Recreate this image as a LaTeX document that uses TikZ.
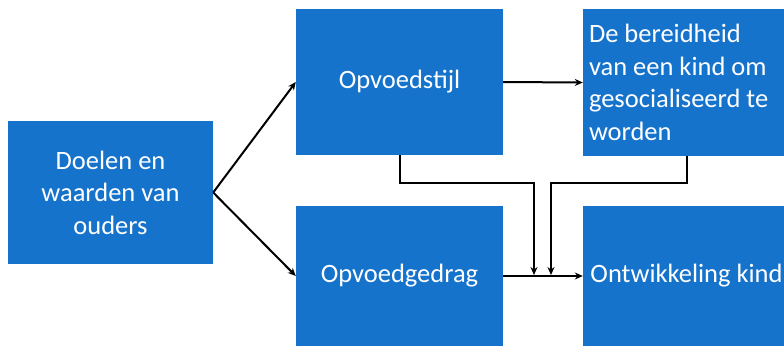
\documentclass[tikz,border=0pt]{standalone}
\usepackage{fontspec}
\setmainfont{Carlito}
\usetikzlibrary{arrows.meta}
\definecolor{boxblue}{RGB}{22,115,204}

\begin{document}
\begin{tikzpicture}[x=1pt, y=-1pt,
  blok/.style={rectangle, fill=boxblue, text=white, font=\fontsize{26.5}{32.5}\selectfont, align=center, inner sep=6pt},
  pijl/.style={-{Stealth[length=8pt, width=7pt]}, line width=2pt}]

\useasboundingbox (0,0) rectangle (784,346);
\clip (0,0) rectangle (784,346);

\node[blok, minimum width=205pt, minimum height=143pt] (doelen) at (110.5,192.5) {Doelen en\\waarden van\\ouders};
\node[blok, minimum width=207pt, minimum height=146pt] (stijl) at (399.5,82) {Opvoedstijl};
\node[blok, minimum width=207pt, minimum height=140pt] (gedrag) at (399.5,276) {Opvoedgedrag};
\node[blok, minimum width=207pt, minimum height=147pt, text width=195pt, align=flush left] (bereid) at (686.5,82.5) {De bereidheid\\van een kind om\\gesocialiseerd te\\worden};
\node[blok, minimum width=207pt, minimum height=140pt] (ontw) at (686.5,276) {Ontwikkeling kind};

\coordinate (inA) at (534,275);
\coordinate (inB) at (551,275);

\draw[pijl] (doelen.east) -- (stijl.west);
\draw[pijl] (doelen.east) -- (gedrag.west);
\draw[pijl] (stijl.east) -- (bereid.west);
\draw[pijl] (gedrag.east) -- (ontw.west);
\draw[pijl] (stijl.south) -- ++(0,28) -| (inA);
\draw[pijl] (bereid.south) -- ++(0,27) -| (inB);

\end{tikzpicture}
\end{document}
